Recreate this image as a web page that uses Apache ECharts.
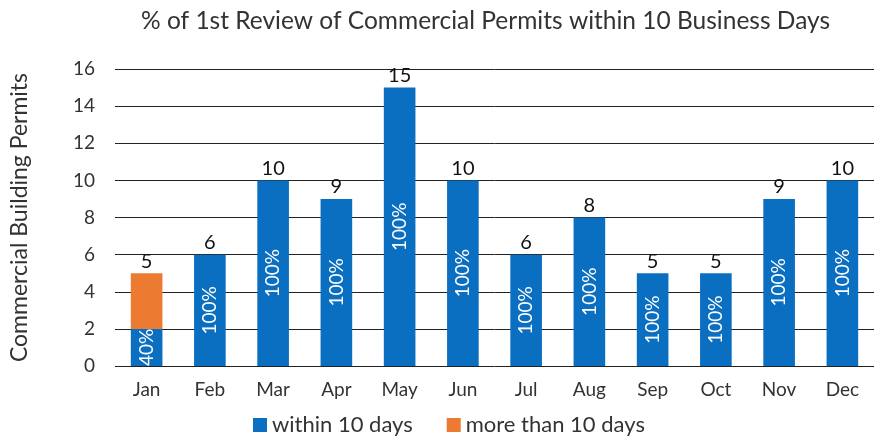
<!DOCTYPE html>
<html>
<head>
<meta charset="utf-8">
<script src="https://cdn.jsdelivr.net/npm/echarts@6/dist/echarts.min.js"></script>
<style>
html,body{margin:0;padding:0;background:#fff;}
#main{width:874px;height:443px;}
</style>
</head>
<body>
<div id="main"></div>
<script>
// month categories and permit counts
var months = ['Jan','Feb','Mar','Apr','May','Jun','Jul','Aug','Sep','Oct','Nov','Dec'];
var within10 = [2,6,10,9,15,10,6,8,5,5,9,10];
var over10 = [3,0,0,0,0,0,0,0,0,0,0,0];
var yTicks = [0,2,4,6,8,10,12,14,16];

var font = "Lato, 'Open Sans', sans-serif";
var totals = within10.map(function(v,i){ return v + over10[i]; });

var chart = echarts.init(document.getElementById('main'));
chart.setOption({
	animation:false,
	title:{
		text:'% of 1st Review of Commercial Permits within 10 Business Days',
		left:136, top:4,
		textStyle:{fontFamily:font,fontSize:24.5,fontWeight:'normal',color:'#333'}
	},
	legend:{
		bottom:2, left:248,
		itemWidth:14, itemHeight:14, itemGap:34,
		icon:'rect',
		textStyle:{fontFamily:font,fontSize:22,color:'#333'},
		data:['within 10 days','more than 10 days']
	},
	grid:{left:113,right:0,top:69,bottom:77},
	xAxis:{
		type:'category', data:months,
		axisLine:{show:false}, axisTick:{show:false},
		axisLabel:{fontFamily:font,fontSize:19,color:'#333',margin:14}
	},
	yAxis:{
		type:'value', min:yTicks[0], max:yTicks[yTicks.length-1], interval:2,
		name:'Commercial Building Permits', nameLocation:'middle', nameGap:84,
		nameTextStyle:{fontFamily:font,fontSize:23,color:'#333'},
		axisLabel:{fontFamily:font,fontSize:19,color:'#333',margin:20},
		splitLine:{lineStyle:{color:'#222',width:1}}
	},
	series:[{
		name:'within 10 days', type:'bar', stack:'t', barWidth:'50%',
		itemStyle:{color:'#0b6fc1'},
		label:{
			show:true, position:'inside', rotate:90, color:'#fff',
			fontFamily:font, fontSize:19,
			formatter:function(p){ return Math.round(within10[p.dataIndex]/totals[p.dataIndex]*100)+'%'; }
		},
		data:within10
	},{
		name:'more than 10 days', type:'bar', stack:'t',
		itemStyle:{color:'#ec7a30'},
		data:over10
	},{
		name:'total', type:'bar', stack:'t', silent:true,
		itemStyle:{color:'transparent'},
		label:{
			show:true, position:'insideBottom', distance:2, color:'#111',
			fontFamily:font, fontSize:20,
			formatter:function(p){ return totals[p.dataIndex]; }
		},
		data:months.map(function(){ return 0; })
	}]
});
</script>
</body>
</html>
